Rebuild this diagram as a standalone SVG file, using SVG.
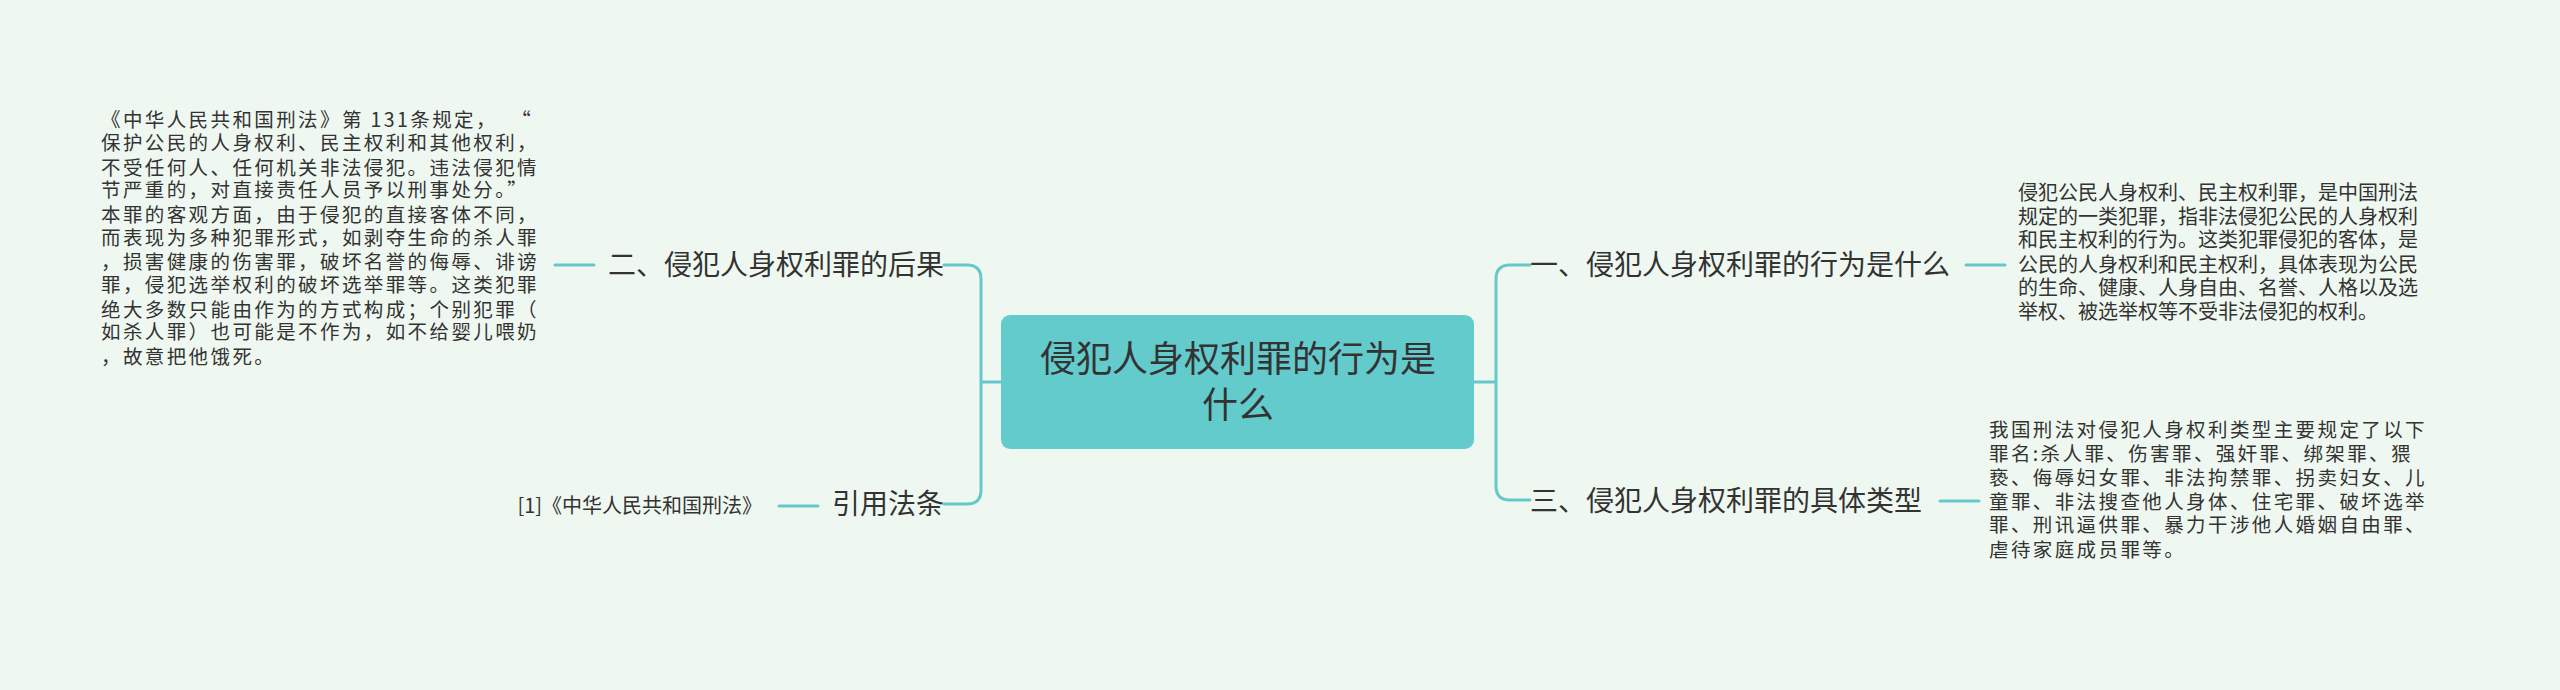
<svg xmlns="http://www.w3.org/2000/svg" width="2560" height="690" viewBox="0 0 2560 690">
<style>
text{font-family:"Noto Sans CJK SC","Noto Sans",sans-serif;fill:#333}
.c{fill:none;stroke:#66c8cc;stroke-width:3;stroke-linecap:round}
.t1{font-size:28px}
.d{font-size:20px}
.d2{font-size:19.5px;letter-spacing:2.4px}
.ctr{font-size:36px;text-anchor:middle}
.e{text-anchor:end}
</style>
<rect width="2560" height="690" fill="#eff8f0"/>
<g id="connectors">
<path class="c" d="M1474,382 H1496 M1530,265 H1510 Q1496,265 1496,279 V486 Q1496,500 1510,500 H1530"/>
<path class="c" d="M1001,382 H981 M944,265 H967 Q981,265 981,279 V490 Q981,504 967,504 H944"/>
<path class="c" d="M1966,265 H2005"/>
<path class="c" d="M1940,501 H1979"/>
<path class="c" d="M555,265 H594"/>
<path class="c" d="M779,506 H818"/>
</g>
<g id="center">
<rect x="1001" y="315" width="473" height="134" rx="9" fill="#63cbcc"/>
<text class="ctr" x="1238" y="372">侵犯人身权利罪的行为是</text>
<text class="ctr" x="1238" y="418">什么</text>
</g>
<g id="n1">
<text class="t1" x="1530" y="275">一、侵犯人身权利罪的行为是什么</text>
</g>
<g id="n1d">
<text class="d" x="2018" y="200">侵犯公民人身权利、民主权利罪，是中国刑法</text>
<text class="d" x="2018" y="224">规定的一类犯罪，指非法侵犯公民的人身权利</text>
<text class="d" x="2018" y="247">和民主权利的行为。这类犯罪侵犯的客体，是</text>
<text class="d" x="2018" y="272">公民的人身权利和民主权利，具体表现为公民</text>
<text class="d" x="2018" y="295">的生命、健康、人身自由、名誉、人格以及选</text>
<text class="d" x="2018" y="319">举权、被选举权等不受非法侵犯的权利。</text>
</g>
<g id="n3">
<text class="t1" x="1530" y="511">三、侵犯人身权利罪的具体类型</text>
</g>
<g id="n3d">
<text class="d2" x="1989" y="437">我国刑法对侵犯人身权利类型主要规定了以下</text>
<text class="d2" x="1989" y="461">罪名:杀人罪、伤害罪、强奸罪、绑架罪、猥</text>
<text class="d2" x="1989" y="485">亵、侮辱妇女罪、非法拘禁罪、拐卖妇女、儿</text>
<text class="d2" x="1989" y="509">童罪、非法搜查他人身体、住宅罪、破坏选举</text>
<text class="d2" x="1989" y="532">罪、刑讯逼供罪、暴力干涉他人婚姻自由罪、</text>
<text class="d2" x="1989" y="557">虐待家庭成员罪等。</text>
</g>
<g id="n2">
<text class="t1 e" x="944" y="275">二、侵犯人身权利罪的后果</text>
</g>
<g id="n2d">
<text class="d2" x="101" y="127" xml:space="preserve">《中华人民共和国刑法》第 131条规定，  “</text>
<text class="d2" x="101" y="150">保护公民的人身权利、民主权利和其他权利，</text>
<text class="d2" x="101" y="175">不受任何人、任何机关非法侵犯。违法侵犯情</text>
<text class="d2" x="101" y="197">节严重的，对直接责任人员予以刑事处分。”</text>
<text class="d2" x="101" y="222">本罪的客观方面，由于侵犯的直接客体不同，</text>
<text class="d2" x="101" y="245">而表现为多种犯罪形式，如剥夺生命的杀人罪</text>
<text class="d2" x="101" y="269">，损害健康的伤害罪，破坏名誉的侮辱、诽谤</text>
<text class="d2" x="101" y="292">罪，侵犯选举权利的破坏选举罪等。这类犯罪</text>
<text class="d2" x="101" y="317">绝大多数只能由作为的方式构成；个别犯罪（</text>
<text class="d2" x="101" y="339">如杀人罪）也可能是不作为，如不给婴儿喂奶</text>
<text class="d2" x="101" y="364">，故意把他饿死。</text>
</g>
<g id="n4">
<text class="t1 e" x="944" y="514">引用法条</text>
</g>
<g id="n4d">
<text class="d e" x="762" y="513">[1]《中华人民共和国刑法》</text>
</g>
</svg>
